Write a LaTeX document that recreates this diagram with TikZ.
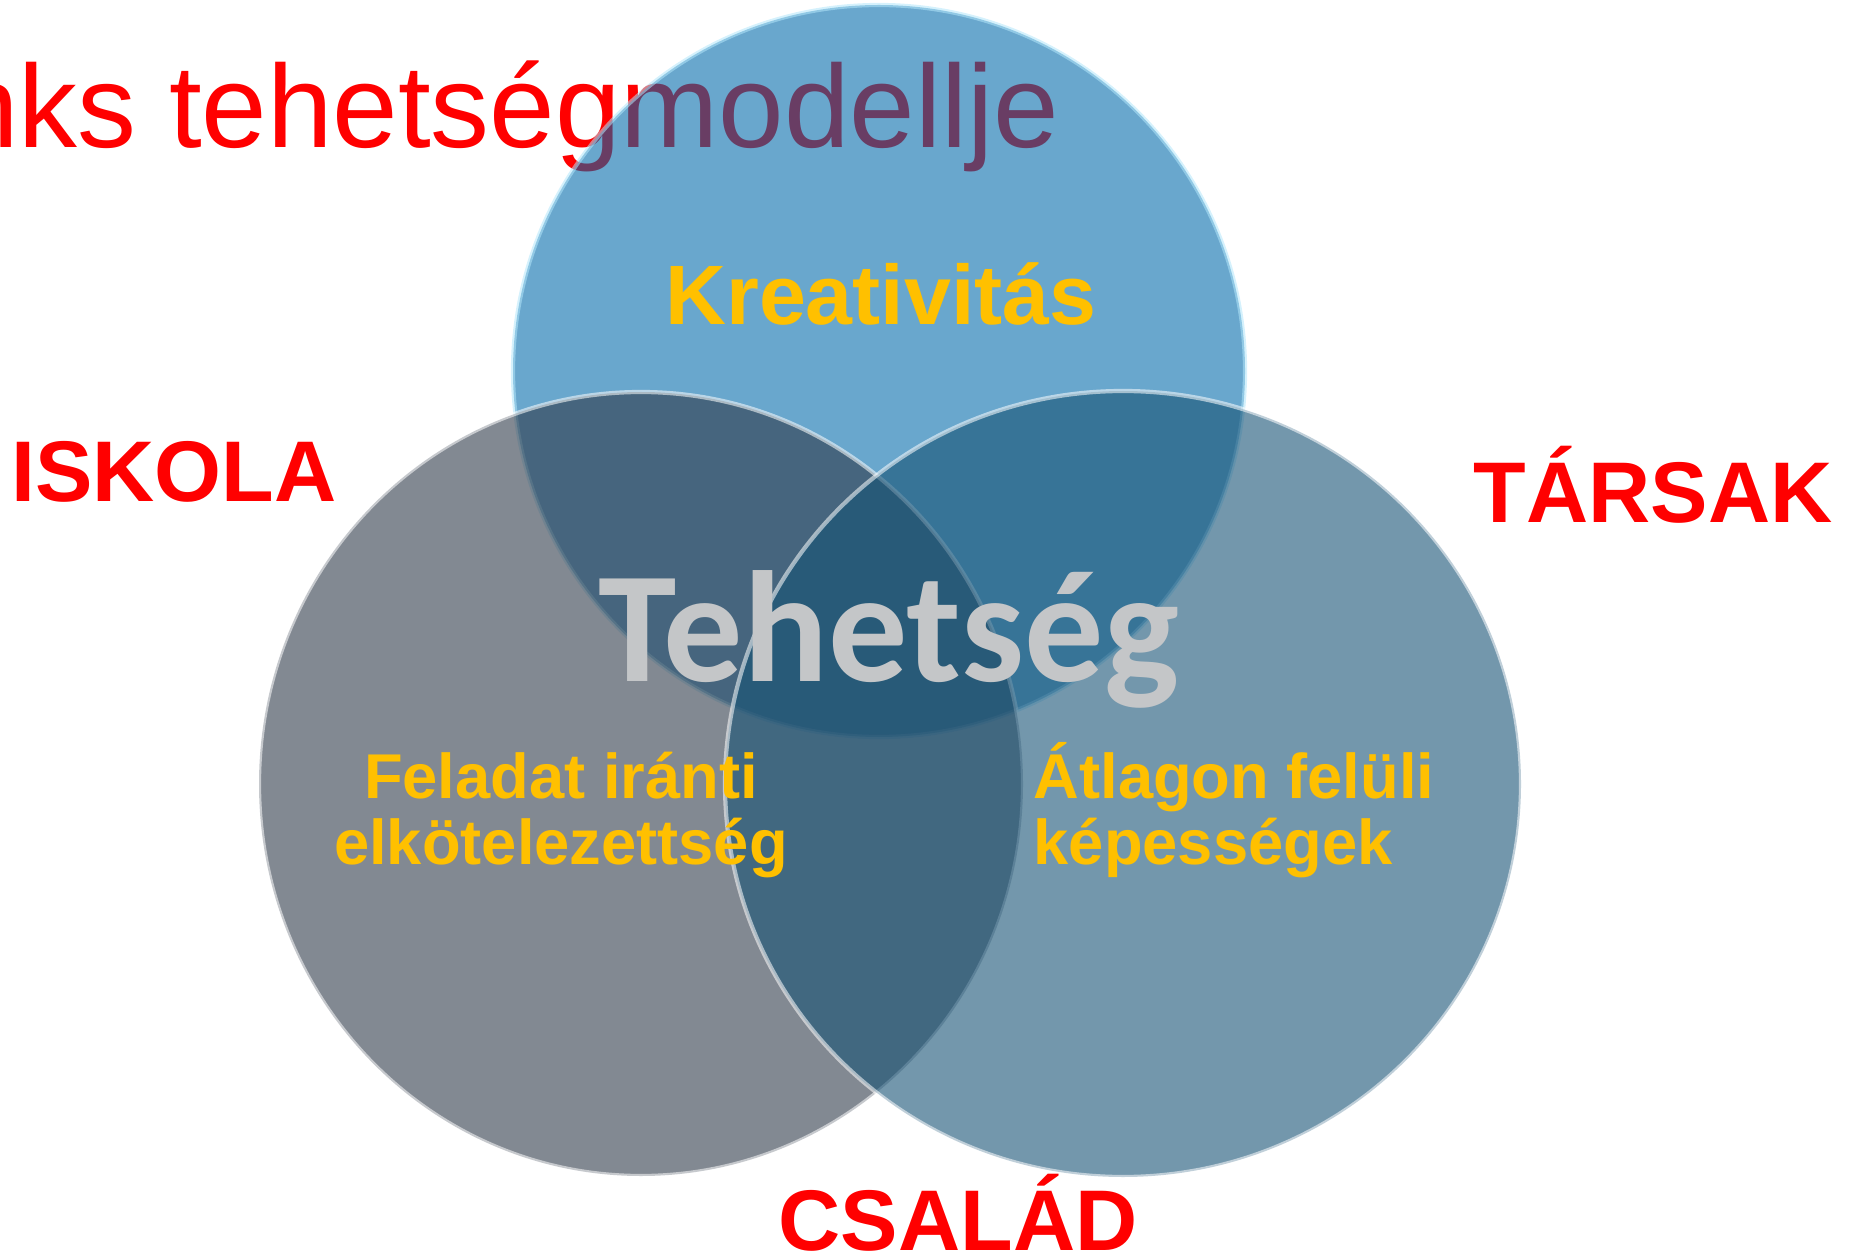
\documentclass[tikz,border=0pt]{standalone}
\usepackage{fontspec}
\setmainfont{Liberation Sans}
\newfontfamily\carlito{Carlito}
\definecolor{topblue}{RGB}{0,105,170}
\definecolor{leftgray}{RGB}{47,58,73}
\definecolor{rightblue}{RGB}{22,82,117}
\definecolor{gold}{RGB}{255,192,0}
\definecolor{silver}{RGB}{196,198,200}

\begin{document}
\begin{tikzpicture}[
	envtext/.style={inner sep=0pt, text=red, font=\bfseries\fontsize{24.5pt}{29pt}\selectfont},
	factortext/.style={inner sep=0pt, text=gold, font=\bfseries\fontsize{18pt}{18.5pt}\selectfont},
	ring/.style={fill opacity=0.6, draw opacity=0.55, line width=1.2pt}]
		\path[use as bounding box, clip] (0,0) rectangle (18.51,12.58);
		
		\node[inner sep=0pt, anchor=base east, text=red, font=\fontsize{33.5pt}{40pt}\selectfont] (0) at (10.60,11.10) {nks tehetségmodellje};
		
		\filldraw[ring, fill=topblue, fill opacity=0.59, draw=cyan!30] (8.79,8.87) circle (3.66);
		\filldraw[ring, fill=leftgray, draw=white] (6.41,4.74) ellipse (3.82 and 3.92);
		\filldraw[ring, fill=rightblue, draw=white] (11.23,4.74) ellipse (3.98 and 3.93);
		
		\node[envtext, anchor=base] (1) at (1.74,7.56) {ISKOLA};
		\node[envtext, anchor=base] (2) at (16.53,7.35) {TÁRSAK};
		\node[envtext, anchor=base] (3) at (9.58,0.08) {CSALÁD};
		
		\node[inner sep=0pt, anchor=base, text=gold, font=\bfseries\fontsize{24pt}{28pt}\selectfont] (4) at (8.81,9.33) {Kreativitás};
		\node[factortext, anchor=base, align=center] (5) at (5.61,3.94) {Feladat iránti\\elkötelezettség};
		\node[factortext, anchor=base west, align=left] (6) at (10.33,3.94) {Átlagon felüli\\képességek};
		
		\node[inner sep=0pt, anchor=base, text=silver, font=\carlito\bfseries\fontsize{45pt}{50pt}\selectfont] (7) at (8.89,5.77) {Tehetség};
		
	\end{tikzpicture}
\end{document}
